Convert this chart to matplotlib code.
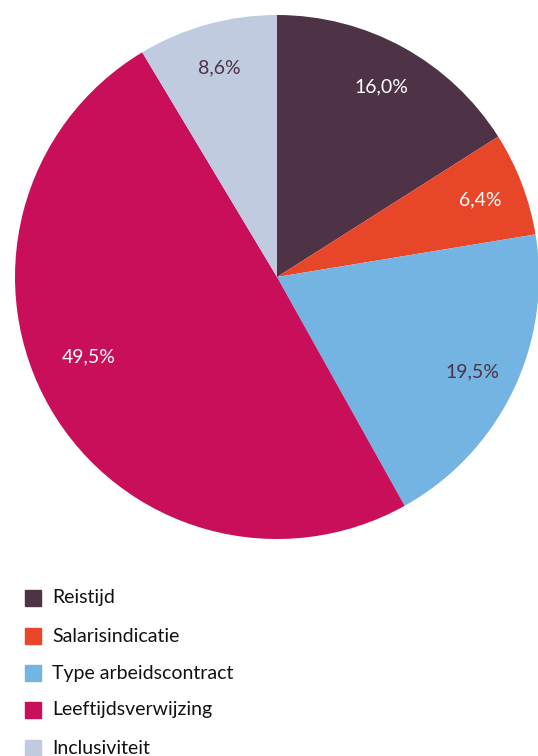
import matplotlib
matplotlib.use("Agg")
from matplotlib import pyplot as plt
from matplotlib.patches import Rectangle

labels = ["Reistijd", "Salarisindicatie", "Type arbeidscontract", "Leeftijdsverwijzing", "Inclusiviteit"]
values = [16.0, 6.4, 19.5, 49.5, 8.6]
colors = ["#4e3347", "#e84628", "#74b4e2", "#c90e5a", "#c0cbdf"]
text_colors = ["white", "white", "#4e3347", "white", "#4e3347"]

plt.rcParams['font.family'] = ['Lato', 'DejaVu Sans']

fig = plt.figure(figsize=(5.38, 7.56), dpi=100)
ax = fig.add_axes([15/538, 1 - 539/756, 524/538, 524/756])

wedges, texts, autotexts = ax.pie(values, colors=colors, startangle=90, counterclock=False,
                                  autopct=lambda p: ("%.1f%%" % p).replace(".", ","),
                                  pctdistance=0.83, radius=1)
for t, c in zip(autotexts, text_colors):
    t.set_color(c)
    t.set_fontsize(14)
# the big slice label sits a bit higher in the original
x, y = autotexts[3].get_position()
autotexts[3].set_position((x, y + 0.11))
ax.set_xlim(-1, 1)
ax.set_ylim(-1, 1)
ax.set_aspect('equal')
ax.axis('off')

# legend drawn by hand
W, H = 538, 756
row_y = [598, 636, 673, 710, 748]
for name, col, y in zip(labels, colors, row_y):
    fig.patches.append(Rectangle((25/W, 1 - (y + 8)/H), 16/W, 16/H, color=col,
                                 transform=fig.transFigure, figure=fig))
    fig.text(52/W, 1 - y/H, name, fontsize=14, color="#111111", va='center', ha='left')

plt.savefig('out.png', dpi=100)
